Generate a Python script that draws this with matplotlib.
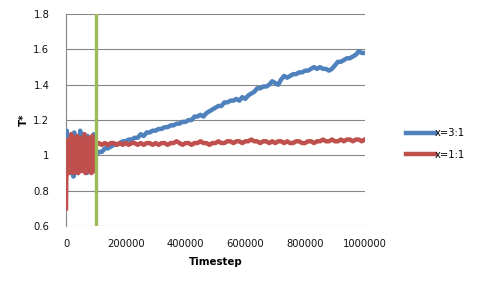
import numpy as np
import matplotlib
matplotlib.use("Agg")
import matplotlib.pyplot as plt

# early equilibration phase, every 2500 steps (0 .. 97500)
early_steps = np.arange(0, 100000, 2500)
blue_early = [1.00, 1.14, 0.92, 1.10, 0.95, 1.06, 0.90, 1.12, 0.96, 1.04,
              0.88, 1.13, 0.93, 1.08, 0.97, 1.10, 0.90, 1.05, 0.94, 1.14,
              0.92, 1.07, 0.96, 1.12, 0.91, 1.09, 0.95, 1.06, 0.90, 1.11,
              0.93, 1.08, 0.97, 1.05, 0.92, 1.10, 0.94, 1.12, 0.96, 1.03]
red_early = [0.70, 1.08, 0.92, 1.09, 0.90, 1.07, 0.93, 1.12, 0.91, 1.08,
             0.90, 1.10, 0.94, 1.06, 0.92, 1.11, 0.90, 1.08, 0.93, 1.09,
             0.91, 1.10, 0.95, 1.07, 0.92, 1.12, 0.90, 1.09, 0.94, 1.08,
             0.91, 1.10, 0.93, 1.06, 0.90, 1.11, 0.92, 1.08, 0.91, 1.07]

# production phase, every 10000 steps (100000 .. 1000000)
late_steps = np.arange(100000, 1000001, 10000)
blue_late = [1.00, 1.02, 1.02, 1.04, 1.04, 1.05, 1.06, 1.06, 1.07, 1.08,
             1.08, 1.09, 1.09, 1.10, 1.10, 1.12, 1.11, 1.13, 1.13, 1.14,
             1.14, 1.15, 1.15, 1.16, 1.16, 1.17, 1.17, 1.18, 1.18, 1.19,
             1.19, 1.20, 1.20, 1.22, 1.22, 1.23, 1.22, 1.24, 1.25, 1.26,
             1.27, 1.28, 1.28, 1.30, 1.30, 1.31, 1.31, 1.32, 1.31, 1.33,
             1.32, 1.34, 1.35, 1.36, 1.38, 1.38, 1.39, 1.39, 1.40, 1.42,
             1.41, 1.40, 1.43, 1.45, 1.44, 1.45, 1.46, 1.46, 1.47, 1.47,
             1.48, 1.48, 1.49, 1.50, 1.49, 1.50, 1.49, 1.49, 1.48, 1.49,
             1.51, 1.53, 1.53, 1.54, 1.55, 1.55, 1.56, 1.57, 1.59, 1.58,
             1.58]
red_late = [1.06, 1.07, 1.06, 1.07, 1.06, 1.07, 1.07, 1.06, 1.07, 1.06,
            1.07, 1.06, 1.07, 1.07, 1.06, 1.07, 1.06, 1.07, 1.07, 1.06,
            1.07, 1.06, 1.07, 1.07, 1.06, 1.07, 1.07, 1.08, 1.07, 1.06,
            1.07, 1.07, 1.06, 1.07, 1.07, 1.08, 1.07, 1.07, 1.06, 1.07,
            1.07, 1.08, 1.07, 1.07, 1.08, 1.08, 1.07, 1.08, 1.08, 1.07,
            1.08, 1.08, 1.09, 1.08, 1.08, 1.07, 1.08, 1.08, 1.07, 1.08,
            1.07, 1.08, 1.08, 1.07, 1.08, 1.07, 1.07, 1.08, 1.08, 1.07,
            1.07, 1.08, 1.08, 1.07, 1.08, 1.08, 1.09, 1.08, 1.08, 1.09,
            1.08, 1.08, 1.09, 1.08, 1.09, 1.09, 1.08, 1.09, 1.09, 1.08,
            1.09]

switch_step = 100000

steps = np.concatenate([early_steps, late_steps])
blue = np.concatenate([blue_early, blue_late])
red = np.concatenate([red_early, red_late])

plt.rcParams['font.family'] = ['DejaVu Sans']

fig = plt.figure(figsize=(4.8, 2.88), dpi=100)
ax = fig.add_axes([0.1375, 0.215, 0.6225, 0.736])

ax.plot(steps, blue, color='#4F81BD', lw=3.2, label='x=3:1', zorder=3)
ax.plot(steps, red, color='#C0504D', lw=3.2, label='x=1:1', zorder=4)
ax.axvline(switch_step, color='#9BBB59', lw=2.4, zorder=5)

ax.set_xlim(0, 1000000)
ax.set_ylim(0.6, 1.8)
ax.set_yticks([0.6, 0.8, 1.0, 1.2, 1.4, 1.6, 1.8])
ax.set_yticklabels(['0.6', '0.8', '1', '1.2', '1.4', '1.6', '1.8'])
ax.set_xticks([0, 200000, 400000, 600000, 800000, 1000000])
ax.set_xticklabels(['0', '200000', '400000', '600000', '800000', '1000000'])
ax.tick_params(length=0, labelsize=7.2, colors='#111111')
ax.tick_params(axis='x', pad=9)
ax.tick_params(axis='y', pad=12)
ax.grid(axis='y', color='#868686', lw=0.8)
ax.set_axisbelow(True)
for s in ['top', 'right', 'bottom']:
    ax.spines[s].set_visible(False)
ax.spines['left'].set_color('#868686')

ax.set_xlabel('Timestep', fontweight='bold', fontsize=7.4, labelpad=6)
ax.set_ylabel('T*', fontweight='bold', fontsize=7.4, labelpad=3)

ax.legend(loc='center left', bbox_to_anchor=(0.846, 0.5),
          bbox_transform=fig.transFigure, frameon=False, borderpad=0,
          borderaxespad=0, fontsize=7.2, handlelength=2.9,
          handletextpad=0.0, labelspacing=1.1)

fig.savefig('out.png', dpi=100)
